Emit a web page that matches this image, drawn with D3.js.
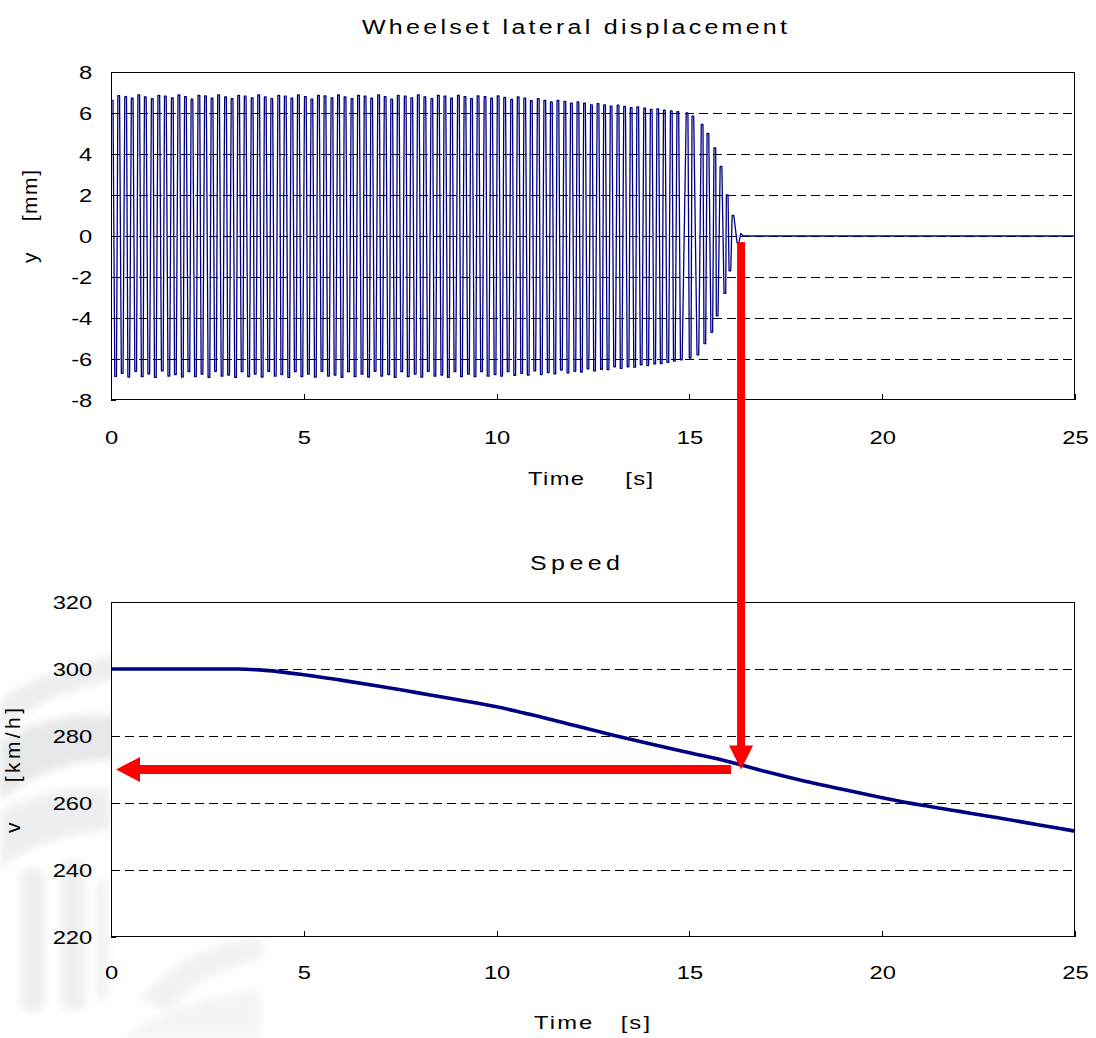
<!DOCTYPE html>
<html>
<head>
<meta charset="utf-8">
<script src="https://cdn.jsdelivr.net/npm/d3@7"></script>
<style>
  body { margin: 0; background: #fff; }
  svg { display: block; }
  text { font-family: "Liberation Sans", Arial, sans-serif; fill: #000; }
</style>
</head>
<body>
<svg id="chart" width="1096" height="1038"></svg>
<script>
// ---- data -------------------------------------------------------------
// Wheelset lateral displacement: successive swing extremes [time s, y mm]
const huntingSwings = [
  [0.03, 6.62], [0.12, -6.85], [0.20, 6.85], [0.29, -6.70], [0.38, 6.80], [0.46, -6.88],
  [0.55, 6.72], [0.64, -6.60], [0.72, 6.88], [0.81, -6.86], [0.89, 6.78], [0.98, -6.72],
  [1.07, 6.70], [1.15, -6.90], [1.24, 6.86], [1.33, -6.58], [1.41, 6.82], [1.50, -6.84],
  [1.59, 6.74], [1.67, -6.76], [1.76, 6.88], [1.85, -6.88], [1.93, 6.80], [2.02, -6.62],
  [2.10, 6.68], [2.19, -6.86], [2.28, 6.86], [2.36, -6.74], [2.45, 6.84], [2.54, -6.90],
  [2.62, 6.72], [2.71, -6.60], [2.79, 6.88], [2.88, -6.84], [2.97, 6.78], [3.05, -6.78],
  [3.14, 6.70], [3.23, -6.90], [3.31, 6.86], [3.40, -6.62], [3.48, 6.82], [3.57, -6.86],
  [3.66, 6.74], [3.74, -6.74], [3.83, 6.88], [3.92, -6.88], [4.00, 6.78], [4.09, -6.60],
  [4.17, 6.70], [4.26, -6.84], [4.35, 6.86], [4.43, -6.76], [4.52, 6.82], [4.61, -6.90],
  [4.69, 6.72], [4.78, -6.62], [4.86, 6.88], [4.95, -6.86], [5.04, 6.80], [5.12, -6.74],
  [5.21, 6.68], [5.30, -6.88], [5.38, 6.86], [5.47, -6.60], [5.55, 6.84], [5.64, -6.84],
  [5.73, 6.74], [5.81, -6.78], [5.90, 6.88], [5.99, -6.90], [6.07, 6.78], [6.16, -6.62],
  [6.25, 6.70], [6.33, -6.86], [6.42, 6.86], [6.51, -6.74], [6.59, 6.82], [6.68, -6.88],
  [6.76, 6.72], [6.85, -6.60], [6.94, 6.88], [7.02, -6.84], [7.11, 6.80], [7.20, -6.76],
  [7.28, 6.68], [7.37, -6.90], [7.45, 6.86], [7.54, -6.62], [7.63, 6.82], [7.71, -6.86],
  [7.80, 6.74], [7.89, -6.74], [7.97, 6.88], [8.06, -6.88], [8.14, 6.78], [8.23, -6.60],
  [8.32, 6.70], [8.40, -6.84], [8.49, 6.86], [8.58, -6.78], [8.66, 6.82], [8.75, -6.90],
  [8.83, 6.72], [8.92, -6.62], [9.01, 6.86], [9.09, -6.86], [9.18, 6.80], [9.27, -6.74],
  [9.35, 6.70], [9.44, -6.86], [9.52, 6.84], [9.61, -6.62], [9.70, 6.80], [9.78, -6.84],
  [9.87, 6.72], [9.96, -6.76], [10.04, 6.84], [10.13, -6.84], [10.21, 6.76], [10.30, -6.62],
  [10.39, 6.66], [10.47, -6.80], [10.56, 6.78], [10.65, -6.70], [10.73, 6.72], [10.82, -6.78],
  [10.90, 6.60], [10.99, -6.58], [11.08, 6.70], [11.16, -6.76], [11.25, 6.62], [11.34, -6.66],
  [11.42, 6.54], [11.51, -6.72], [11.59, 6.62], [11.68, -6.54], [11.77, 6.56], [11.85, -6.68],
  [11.94, 6.48], [12.03, -6.60], [12.11, 6.54], [12.20, -6.64], [12.28, 6.48], [12.37, -6.48],
  [12.46, 6.40], [12.54, -6.58], [12.63, 6.46], [12.72, -6.50], [12.80, 6.40], [12.89, -6.52],
  [12.97, 6.34], [13.06, -6.38], [13.15, 6.38], [13.23, -6.46], [13.32, 6.32], [13.41, -6.38],
  [13.49, 6.26], [13.58, -6.40], [13.66, 6.30], [13.75, -6.28], [13.84, 6.24], [13.92, -6.32],
  [14.01, 6.18], [14.10, -6.24], [14.18, 6.20], [14.27, -6.22], [14.35, 6.14], [14.44, -6.16],
  [14.53, 6.10], [14.61, -6.10], [14.70, 6.06], [14.79, -6.04], [14.94, 6.00], [15.02, -5.95],
  [15.09, 5.85], [15.22, -5.80], [15.33, 5.45], [15.40, -5.25], [15.48, 5.00], [15.58, -4.70],
  [15.66, 4.30], [15.72, -3.90], [15.82, 3.40], [15.92, -2.80], [15.98, 2.00], [16.05, -1.70],
  [16.13, 1.00], [16.26, -0.35], [16.33, 0.12], [16.40, 0.00], [25.00, 0.00]
];

// Vehicle speed [s] -> [km/h]
const speedTime  = [0, 3.3, 4, 5, 6, 7, 8, 9, 10, 11, 12, 13, 14, 15, 16, 17, 18, 19, 20, 21, 22, 23, 24, 25];
const speedValue = [300, 300, 299.6, 298.3, 296.6, 294.8, 292.8, 290.8, 288.7, 286.1, 283.2, 280.3, 277.6, 275.0,
                    272.4, 269.3, 266.5, 264.0, 261.6, 259.4, 257.5, 255.6, 253.6, 251.6];

const timeTicks  = [0, 5, 10, 15, 20, 25];
const yTicks     = [-8, -6, -4, -2, 0, 2, 4, 6, 8];
const speedTicks = [220, 240, 260, 280, 300, 320];

// Annotation: moment the hunting dies out and the speed read at that moment
const stableTime   = 16.34;
const stableYStart = -0.3;
const stableSpeed  = 270;
const readoutFrom  = 16.08;
const readoutTo    = 0.13;

// ---- layout -----------------------------------------------------------
const svg = d3.select("#chart");
const left = 111, right = 1075;
const top1 = { y0: 72, y1: 400 };
const top2 = { y0: 602, y1: 937 };
const FS = 19;          // tick font size
const STRETCH = 1.25;   // horizontal stretch of glyphs
const PLATEAU = 0.022;  // half width [s] of the flat top drawn at each swing extreme

const x = d3.scaleLinear().domain([0, 25]).range([left, right]);
const yDisp = d3.scaleLinear().domain([-8, 8]).range([top1.y1, top1.y0]);
const ySpeed = d3.scaleLinear().domain([220, 320]).range([top2.y1, top2.y0]);
const fmt = d => String(d);

// ---- faint background picture (bogie silhouette) ----------------------
const defs = svg.append("defs");
defs.append("filter").attr("id", "soft").append("feGaussianBlur").attr("stdDeviation", 4);
const bg = svg.append("g").attr("filter", "url(#soft)").attr("opacity", 0.32);
bg.append("path").attr("d", "M0,700 C60,660 150,640 235,650 L235,672 C150,664 70,680 0,728 Z").attr("fill", "#c4c9cc");
bg.append("path").attr("d", "M0,742 C30,720 80,712 118,716 L118,760 C80,758 40,770 0,800 Z").attr("fill", "#b4b9bc");
bg.append("path").attr("d", "M0,812 C40,790 80,786 110,790 L110,830 C70,832 30,845 0,868 Z").attr("fill", "#c8ccd0");
bg.append("rect").attr("x", 22).attr("y", 870).attr("width", 22).attr("height", 140).attr("fill", "#c6cacd");
bg.append("rect").attr("x", 62).attr("y", 860).attr("width", 24).attr("height", 150).attr("fill", "#ccd0d3");
bg.append("rect").attr("x", 96).attr("y", 880).attr("width", 12).attr("height", 120).attr("fill", "#d4d7da");
bg.append("path").attr("d", "M140,1000 C170,960 220,940 262,936 L262,960 C225,966 190,985 170,1010 Z").attr("fill", "#d2d5d8");
bg.append("path").attr("d", "M120,1038 C160,1010 210,995 260,990 L260,1038 Z").attr("fill", "#dcdfe2");

// white plot backgrounds
svg.append("rect").attr("x", left).attr("y", top1.y0).attr("width", right - left).attr("height", top1.y1 - top1.y0).attr("fill", "#fff");
svg.append("rect").attr("x", left).attr("y", top2.y0).attr("width", right - left).attr("height", top2.y1 - top2.y0).attr("fill", "#fff");

// ---- helpers ----------------------------------------------------------
function stretchedText(g, tx, ty, str, opts = {}) {
  const sx = opts.sx || STRETCH;
  const t = g.append("text")
    .attr("transform", `translate(${tx},${ty})${opts.rot ? ` rotate(${opts.rot})` : ""} scale(${sx},1)`)
    .attr("text-anchor", opts.anchor || "middle")
    .attr("font-size", opts.size || FS)
    .attr("xml:space", "preserve")
    .text(str);
  if (opts.len) t.attr("textLength", opts.len / sx).attr("lengthAdjust", "spacing");
  return t;
}

function grid(scale, values) {
  svg.append("g").attr("shape-rendering", "crispEdges")
    .selectAll("line").data(values).join("line")
    .attr("x1", left).attr("x2", right)
    .attr("y1", d => Math.round(scale(d)) + 0.5).attr("y2", d => Math.round(scale(d)) + 0.5)
    .attr("stroke", "#000").attr("stroke-width", 1)
    .attr("stroke-dasharray", "9,5");
}

function axes(yScale, yTickVals, panel, xPad) {
  const gx = svg.append("g").attr("transform", `translate(0,${panel.y1})`)
    .call(d3.axisBottom(x).tickValues(timeTicks).tickSize(-6).tickPadding(xPad).tickFormat(fmt));
  const gy = svg.append("g").attr("transform", `translate(${left},0)`)
    .call(d3.axisLeft(yScale).tickValues(yTickVals).tickSize(-5).tickPadding(15).tickFormat(fmt));
  [gx, gy].forEach(g => {
    g.select(".domain").remove();
    g.selectAll(".tick line").attr("stroke", "#000").attr("shape-rendering", "crispEdges");
    g.selectAll(".tick text").attr("font-size", FS).attr("fill", "#000")
      .attr("font-family", '"Liberation Sans", Arial, sans-serif')
      .attr("transform", `scale(${STRETCH},1)`);
  });
  svg.append("rect").attr("x", left + 0.5).attr("y", panel.y0 + 0.5)
    .attr("width", right - left - 1).attr("height", panel.y1 - panel.y0 - 1)
    .attr("fill", "none").attr("stroke", "#000").attr("stroke-width", 1)
    .attr("shape-rendering", "crispEdges");
}

// ---- top panel: lateral displacement ----------------------------------
grid(yDisp, [-6, -4, -2, 0, 2, 4, 6]);
defs.append("clipPath").attr("id", "clip1").append("rect")
  .attr("x", left).attr("y", top1.y0).attr("width", right - left).attr("height", top1.y1 - top1.y0);
// each swing extreme is drawn with a short flat top, as the sampled trace shows
const swingPath = huntingSwings.flatMap((d, i) =>
  (i < huntingSwings.length - 3) ? [[d[0] - PLATEAU, d[1]], [d[0] + PLATEAU, d[1]]] : [d]);
svg.append("path")
  .datum(swingPath)
  .attr("clip-path", "url(#clip1)")
  .attr("fill", "none")
  .attr("stroke", "#000080")
  .attr("stroke-width", 1.3)
  .attr("stroke-linejoin", "round")
  .attr("d", d3.line().x(d => x(d[0])).y(d => yDisp(d[1])));
axes(yDisp, yTicks, top1, 30.5);

// ---- bottom panel: speed ----------------------------------------------
grid(ySpeed, [240, 260, 280, 300]);
svg.append("path")
  .datum(speedTime.map((t, i) => [t, speedValue[i]]))
  .attr("fill", "none")
  .attr("stroke", "#000080")
  .attr("stroke-width", 3.6)
  .attr("d", d3.line().curve(d3.curveMonotoneX).x(d => x(d[0])).y(d => ySpeed(d[1])));
axes(ySpeed, speedTicks, top2, 28.5);

// ---- titles and axis labels -------------------------------------------
stretchedText(svg, 574.5, 34, "Wheelset lateral displacement", { size: 20, len: 425 });
stretchedText(svg, 575, 570, "Speed", { size: 20, len: 90 });
stretchedText(svg, 590.5, 485, "Time     [s]", { size: 19, len: 125 });
stretchedText(svg, 592, 1029, "Time   [s]", { size: 19, len: 116 });
stretchedText(svg, 37, 216.5, "y    [mm]", { sx: 1, size: 21, len: 93, rot: -90 });
stretchedText(svg, 20, 770.5, "v    [km/h]", { sx: 1, size: 21, len: 125, rot: -90 });

// ---- red arrows --------------------------------------------------------
const red = "#ff0000";
const shaft = 8, headHalf = 12, headLen = 24;
const ax = x(stableTime);
const ayTop = yDisp(stableYStart);
const ayTip = ySpeed(stableSpeed);
svg.append("rect").attr("x", ax - shaft / 2).attr("y", ayTop)
  .attr("width", shaft).attr("height", ayTip - headLen - ayTop + 1).attr("fill", red);
svg.append("path").attr("fill", red)
  .attr("d", `M${ax - headHalf},${ayTip - headLen} L${ax + headHalf},${ayTip - headLen} L${ax},${ayTip} Z`);

const hy = ySpeed(stableSpeed);
const hxTip = x(readoutTo);
const hxEnd = x(readoutFrom);
svg.append("rect").attr("x", hxTip + headLen - 1).attr("y", hy - shaft / 2 - 0.5)
  .attr("width", hxEnd - hxTip - headLen + 1).attr("height", shaft + 1).attr("fill", red);
svg.append("path").attr("fill", red)
  .attr("d", `M${hxTip + headLen},${hy - headHalf - 0.5} L${hxTip + headLen},${hy + headHalf + 0.5} L${hxTip},${hy} Z`);
</script>
</body>
</html>
